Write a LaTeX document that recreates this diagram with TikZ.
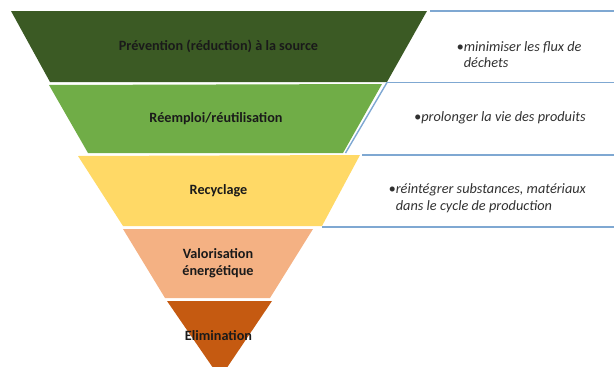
\documentclass[tikz,border=0pt]{standalone}
\usepackage{fontspec}
\setmainfont{Carlito}
\definecolor{bandA}{HTML}{3B5A24}
\definecolor{bandB}{HTML}{70AD47}
\definecolor{bandC}{HTML}{FFD966}
\definecolor{bandD}{HTML}{F4B183}
\definecolor{bandE}{HTML}{C55A11}
\definecolor{ruleblue}{HTML}{7FA8D2}
\definecolor{ink}{HTML}{1A1A1A}
\tikzset{
  lbl/.style={font=\fontsize{14.2}{16.5}\selectfont\bfseries, text=ink, align=center, inner sep=0pt},
  note/.style={font=\fontsize{14.3}{16.8}\selectfont\itshape, text=ink!90, align=left, anchor=west, inner sep=0pt},
  rule/.style={draw=ruleblue, line width=1.4pt}
}
\begin{document}
\begin{tikzpicture}[x=1pt,y=-1pt]
\useasboundingbox (0,0) rectangle (614,367);
\begin{scope}
\clip (0,0) rectangle (614,367);
% bands
\fill[bandA] (11,11) -- (427,11) -- (387,82) -- (50,82) -- cycle;
\fill[bandB] (49,85) -- (382,84) -- (343,153) -- (88,153) -- cycle;
\fill[bandC] (78,156) -- (360,155) -- (322,226) -- (123,226) -- cycle;
\fill[bandD] (123,229) -- (313,229) -- (270,298) -- (165,298) -- cycle;
\fill[bandE] (167,301) -- (272,301) -- (220,378) -- cycle;
\end{scope}
% separator lines
\draw[rule] (430,11) -- (614,11);
\draw[rule] (387,82.5) -- (614,82.5);
\draw[rule] (387,82.5) -- (345.5,153);
\draw[rule] (362,155) -- (614,155);
\draw[rule] (322,227) -- (614,227);
% band labels
\node[lbl] (prev) at (218.5,46) {Prévention (réduction) à la source};
\node[lbl] (reem) at (216,119) {Réemploi/réutilisation};
\node[lbl] (recy) at (218.5,191) {Recyclage};
\node[lbl] (valo) at (218,263) {Valorisation\\énergétique};
\node[lbl] (elim) at (218.5,336) {Elimination};
% notes
\node[note] (n1) at (456.5,54.5) {\textbullet minimiser les flux de\\\hphantom{\textbullet}déchets};
\node[note] (n2) at (414,118) {\textbullet prolonger la vie des produits};
\node[note] (n3) at (388.5,198.5) {\textbullet réintégrer substances, matériaux\\\hphantom{\textbullet}dans le cycle de production};
\end{tikzpicture}
\end{document}
